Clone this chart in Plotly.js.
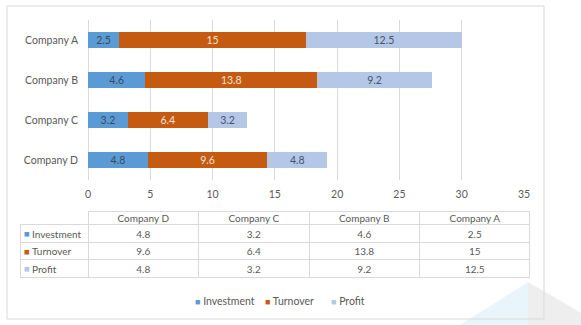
<!DOCTYPE html>
<html>
<head>
<meta charset="utf-8">
<script src="https://cdn.plot.ly/plotly-3.0.1.min.js"></script>
<style>html,body{margin:0;padding:0;background:#fff;}#chart{width:581px;height:325px;}</style>
</head>
<body>
<div id="chart"></div>
<script>
// Data
const companies = ['Company D', 'Company C', 'Company B', 'Company A'];
const seriesNames = ['Investment', 'Turnover', 'Profit'];
const investment = [4.8, 3.2, 4.6, 2.5];
const turnover = [9.6, 6.4, 13.8, 15];
const profit = [4.8, 3.2, 9.2, 12.5];
const xTicks = [0, 5, 10, 15, 20, 25, 30, 35];

const W = 581, H = 325;
const px = v => v / W;
const py = v => 1 - v / H;

const colors = ['#5B9BD5', '#C55A11', '#B4C7E7'];
const labelColors = ['#3a4a5c', '#f6e2d2', '#44546a'];
const font = 'Lato, "Open Sans", sans-serif';
const values = [investment, turnover, profit];

const traces = seriesNames.map((name, i) => ({
  type: 'bar',
  orientation: 'h',
  name: name,
  y: companies,
  x: values[i],
  marker: {color: colors[i]},
  text: values[i].map(String),
  textposition: 'inside',
  insidetextanchor: 'middle',
  constraintext: 'none',
  textfont: {family: font, size: 10.5, color: labelColors[i]},
  hoverinfo: 'skip',
  showlegend: false,
  xaxis: 'x', yaxis: 'y'
}));

const colWidths = [68, 110, 110, 110, 110];
const gridColor = '#d9d9d9';
const clear = 'rgba(0,0,0,0)';
const txtFont = {family: font, size: 10, color: '#595959'};

// Table borders
traces.push({
  type: 'table',
  domain: {x: [px(20), px(530)], y: [py(290), py(211)]},
  columnwidth: colWidths,
  header: {
    values: ['', '', '', '', ''],
    height: 13.3,
    fill: {color: clear},
    line: {color: [clear, gridColor, gridColor, gridColor, gridColor], width: 1}
  },
  cells: {
    values: colWidths.map(() => seriesNames.map(() => '')),
    height: 17.7,
    fill: {color: clear},
    line: {color: gridColor, width: 1}
  }
});

// Table values text (company columns)
traces.push({
  type: 'table',
  domain: {x: [px(88), px(530)], y: [py(300), py(206)]},
  columnwidth: [110, 110, 110, 110],
  header: {
    values: companies,
    height: 16,
    align: 'center',
    fill: {color: clear},
    line: {color: clear, width: 0},
    font: txtFont
  },
  cells: {
    values: companies.map((c, j) => [investment[j], turnover[j], profit[j]].map(String)),
    height: 17.6,
    align: 'center',
    fill: {color: clear},
    line: {color: clear, width: 0},
    font: txtFont
  }
});

// Row-label swatches
traces.push({
  type: 'table',
  domain: {x: [px(16), px(40)], y: [py(300), py(206)]},
  columnwidth: [24],
  header: {values: [''], height: 16, fill: {color: clear}, line: {color: clear, width: 0}},
  cells: {
    values: [seriesNames.map(() => '■')],
    height: 17.6,
    align: 'left',
    fill: {color: clear},
    line: {color: clear, width: 0},
    font: {family: font, size: 9.5, color: [colors]}
  }
});

// Table row labels
traces.push({
  type: 'table',
  domain: {x: [px(24), px(88)], y: [py(300), py(206)]},
  columnwidth: [64],
  header: {values: [''], height: 16, fill: {color: clear}, line: {color: clear, width: 0}},
  cells: {
    values: [seriesNames],
    height: 17.6,
    align: 'left',
    fill: {color: clear},
    line: {color: clear, width: 0},
    font: txtFont
  }
});

// Legend as annotations built from the series
const legendX = [197, 267, 333];
const annotations = seriesNames.map((n, i) => ({
  xref: 'paper', yref: 'paper',
  x: px(legendX[i] - 4), y: py(301),
  xanchor: 'left', yanchor: 'middle',
  text: '<span style="color:' + colors[i] + ';font-size:9px">■</span> ' + n,
  showarrow: false,
  font: {family: font, size: 10.5, color: '#595959'}
}));

const layout = {
  width: W, height: H,
  margin: {l: 0, r: 0, t: 0, b: 0},
  paper_bgcolor: 'white',
  plot_bgcolor: 'white',
  barmode: 'stack',
  bargap: 0.6,
  showlegend: false,
  font: {family: font, color: '#595959'},
  xaxis: {
    domain: [px(88), px(524)],
    range: [0, 35],
    tickvals: xTicks,
    ticktext: xTicks.map(String),
    showgrid: true,
    gridcolor: gridColor,
    zeroline: true,
    zerolinecolor: gridColor,
    showline: false,
    ticks: '',
    ticklabelstandoff: 6,
    tickfont: {family: font, size: 10.5, color: '#595959'},
    fixedrange: true
  },
  yaxis: {
    domain: [py(180), py(20)],
    categoryorder: 'array',
    categoryarray: companies,
    range: [-0.5, 3.5],
    showgrid: false,
    zeroline: false,
    showline: false,
    ticks: '',
    ticklabelstandoff: 9,
    tickfont: {family: font, size: 10.5, color: '#595959'},
    fixedrange: true
  },
  annotations: annotations,
  shapes: [
    {type: 'path', xref: 'paper', yref: 'paper', layer: 'below',
     path: `M ${px(460)} ${py(325)} L ${px(528)} ${py(282)} L ${px(528)} ${py(325)} Z`,
     fillcolor: '#e9f5fb', line: {width: 0}},
    {type: 'path', xref: 'paper', yref: 'paper', layer: 'below',
     path: `M ${px(528)} ${py(282)} L ${px(581)} ${py(313)} L ${px(581)} ${py(325)} L ${px(528)} ${py(325)} Z`,
     fillcolor: '#eeeeee', line: {width: 0}},
    {type: 'rect', xref: 'paper', yref: 'paper', layer: 'below',
     x0: px(7), x1: px(544), y0: py(319), y1: py(6),
     fillcolor: clear, line: {color: gridColor, width: 1}}
  ]
};

Plotly.newPlot('chart', traces, layout, {staticPlot: true, displayModeBar: false});
</script>
</body>
</html>
